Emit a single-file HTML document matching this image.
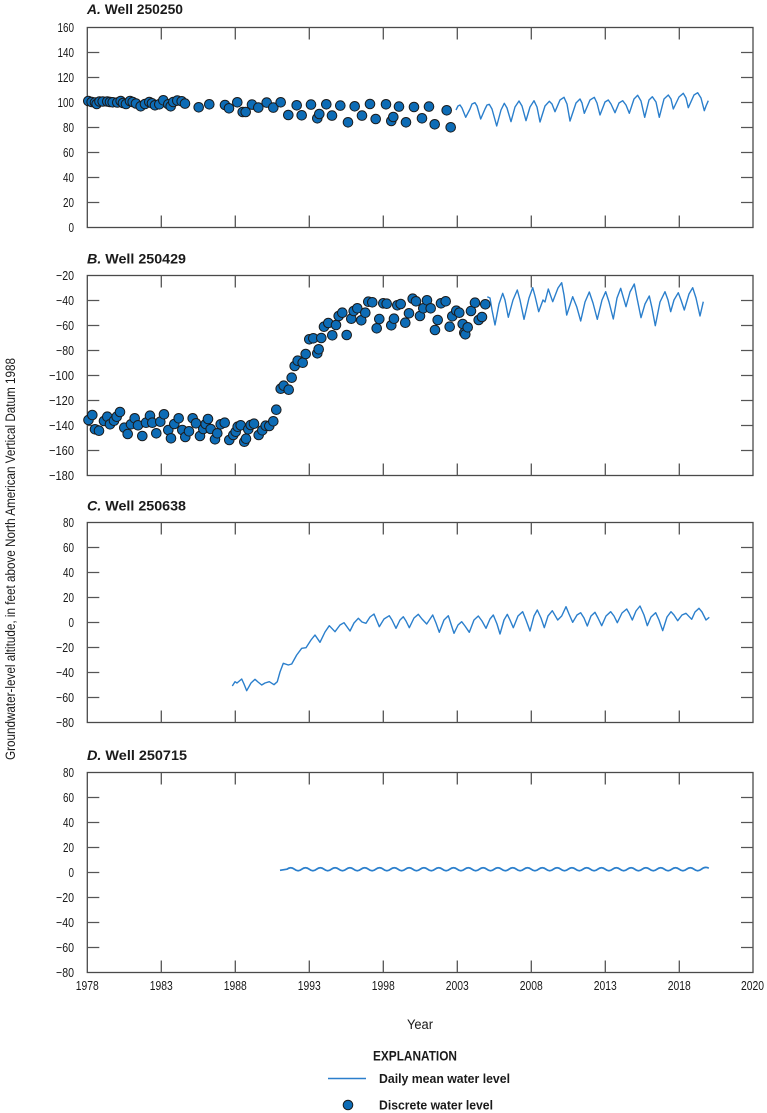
<!DOCTYPE html>
<html>
<head>
<meta charset="utf-8">
<style>
html,body{margin:0;padding:0;background:#fff;}
svg{display:block;}
text{font-family:"Liberation Sans Narrow","Liberation Sans",sans-serif;fill:#1a1a1a;}
.t{font-size:13px;}
.ttl{font-size:13.5px;font-weight:bold;}
.lg{font-size:12.5px;font-weight:bold;}
</style>
</head>
<body>
<svg width="767" height="1113" viewBox="0 0 767 1113" xmlns="http://www.w3.org/2000/svg">
<defs>
  <g id="frame">
    <rect x="87.3" y="0" width="665.7" height="200" fill="none" stroke="#4a4a4a" stroke-width="1.3"/>
    <path d="M161.3,0v12M235.3,0v12M309.3,0v12M383.3,0v12M457.3,0v12M531.3,0v12M605.3,0v12M679.3,0v12
             M161.3,200v-12M235.3,200v-12M309.3,200v-12M383.3,200v-12M457.3,200v-12M531.3,200v-12M605.3,200v-12M679.3,200v-12
             M87.3,25h12M87.3,50h12M87.3,75h12M87.3,100h12M87.3,125h12M87.3,150h12M87.3,175h12
             M753,25h-12M753,50h-12M753,75h-12M753,100h-12M753,125h-12M753,150h-12M753,175h-12"
          stroke="#555" stroke-width="1.3" fill="none"/>
  </g>
</defs>

<!-- Y axis title -->
<text transform="translate(15,559) rotate(-90)" text-anchor="middle" style="font-size:13.5px" textLength="402" lengthAdjust="spacingAndGlyphs">Groundwater-level altitude, in feet above North American Vertical Datum 1988</text>

<!-- ============ PANEL A ============ -->
<text class="ttl" x="87" y="14" textLength="96" lengthAdjust="spacingAndGlyphs"><tspan font-style="italic">A.</tspan> Well 250250</text>
<g transform="translate(0,27.5)">
  <use href="#frame"/>
  <g class="t" text-anchor="end">
    <text x="74" y="4.6" textLength="16.5" lengthAdjust="spacingAndGlyphs">160</text>
    <text x="74" y="29.6" textLength="16.5" lengthAdjust="spacingAndGlyphs">140</text>
    <text x="74" y="54.6" textLength="16.5" lengthAdjust="spacingAndGlyphs">120</text>
    <text x="74" y="79.6" textLength="16.5" lengthAdjust="spacingAndGlyphs">100</text>
    <text x="74" y="104.6" textLength="11" lengthAdjust="spacingAndGlyphs">80</text>
    <text x="74" y="129.6" textLength="11" lengthAdjust="spacingAndGlyphs">60</text>
    <text x="74" y="154.6" textLength="11" lengthAdjust="spacingAndGlyphs">40</text>
    <text x="74" y="179.6" textLength="11" lengthAdjust="spacingAndGlyphs">20</text>
    <text x="74" y="204.6" textLength="5.5" lengthAdjust="spacingAndGlyphs">0</text>
  </g>
</g>
<polyline fill="none" stroke="#2b7fcc" stroke-width="1.4" stroke-linejoin="round" points="456,110 458,106 460,105 462,108 465.7,117.3 470,109 472,104 475,102.7 477,106 480.7,119 485,109 487,105 489.3,104.3 492,109 496.7,126 501,110 504.3,103.3 507,108 511,121.7 515,107 519,101 522,106 526,120.7 530,107 534,100.7 537,107 540,122 545,106 549.3,101.3 552,104 555,111.7 560,100 564,97.3 567,104 570,121 576,103 580,99 582,103 584.3,113.3 590,100 594.3,97.3 597,103 600,115 605,102 608.3,100 611,104 615,112.7 619,103 622.7,100.7 626,105 629.3,113.3 634,99 637.7,95.3 641,101 644.7,117.3 649,100 652.3,96.7 656,102 659.3,117.3 664,99 668.3,95 671,99 673.3,109 679,97 683.3,93.3 686,98 688.3,107.7 694,95 697.7,92.7 701,98 704.3,110.7 706,106 708.3,100.7"/>
<g fill="#0d6cb6" stroke="#1b1b1b" stroke-width="1">
<circle cx="88.3" cy="101" r="4.8"/><circle cx="91.7" cy="102" r="4.8"/><circle cx="95" cy="102.5" r="4.8"/><circle cx="96.7" cy="104" r="4.8"/><circle cx="99.5" cy="101.5" r="4.8"/><circle cx="102.7" cy="101.5" r="4.8"/><circle cx="107.3" cy="101.5" r="4.8"/><circle cx="110" cy="102" r="4.8"/><circle cx="112.7" cy="102.3" r="4.8"/><circle cx="117.3" cy="102.5" r="4.8"/><circle cx="120.7" cy="101" r="4.8"/><circle cx="123" cy="103" r="4.8"/><circle cx="126" cy="104" r="4.8"/><circle cx="130" cy="101" r="4.8"/><circle cx="132.7" cy="102" r="4.8"/><circle cx="136" cy="103.5" r="4.8"/><circle cx="140.7" cy="106.3" r="4.8"/><circle cx="145" cy="104" r="4.8"/><circle cx="149.3" cy="102" r="4.8"/><circle cx="152" cy="103.3" r="4.8"/><circle cx="155" cy="105.3" r="4.8"/><circle cx="159.3" cy="104.3" r="4.8"/><circle cx="163.3" cy="100.3" r="4.8"/><circle cx="168.3" cy="104.3" r="4.8"/><circle cx="170.7" cy="106.3" r="4.8"/><circle cx="173.3" cy="102" r="4.8"/><circle cx="177.3" cy="100.6" r="4.8"/><circle cx="181.7" cy="101.3" r="4.8"/><circle cx="185" cy="103.6" r="4.8"/>
<circle cx="198.7" cy="107.3" r="4.8"/><circle cx="209.3" cy="104.3" r="4.8"/><circle cx="225" cy="105" r="4.8"/><circle cx="229" cy="108.3" r="4.8"/><circle cx="237.3" cy="102.3" r="4.8"/><circle cx="242.7" cy="112" r="4.8"/><circle cx="245.7" cy="112" r="4.8"/><circle cx="252" cy="104.6" r="4.8"/><circle cx="258.3" cy="107.6" r="4.8"/><circle cx="266.7" cy="102.6" r="4.8"/><circle cx="273.3" cy="107.6" r="4.8"/><circle cx="280.7" cy="102.3" r="4.8"/><circle cx="288.3" cy="115" r="4.8"/><circle cx="296.7" cy="105.3" r="4.8"/><circle cx="301.7" cy="115.3" r="4.8"/><circle cx="311" cy="104.6" r="4.8"/><circle cx="317.3" cy="118.3" r="4.8"/><circle cx="319.3" cy="114" r="4.8"/><circle cx="326.3" cy="104.3" r="4.8"/><circle cx="332" cy="115.6" r="4.8"/><circle cx="340.3" cy="105.6" r="4.8"/><circle cx="348" cy="122.3" r="4.8"/><circle cx="354.7" cy="106.3" r="4.8"/><circle cx="362" cy="115.6" r="4.8"/><circle cx="370" cy="104" r="4.8"/><circle cx="375.7" cy="119" r="4.8"/><circle cx="386" cy="104.3" r="4.8"/><circle cx="391.3" cy="121" r="4.8"/><circle cx="393.3" cy="117" r="4.8"/><circle cx="399" cy="106.6" r="4.8"/><circle cx="406" cy="122.3" r="4.8"/><circle cx="414" cy="107" r="4.8"/><circle cx="422" cy="118.3" r="4.8"/><circle cx="429" cy="106.6" r="4.8"/><circle cx="434.7" cy="124.3" r="4.8"/><circle cx="446.7" cy="110.3" r="4.8"/><circle cx="450.7" cy="127.3" r="4.8"/>
</g>

<!-- ============ PANEL B ============ -->
<text class="ttl" x="87" y="263.3" textLength="99" lengthAdjust="spacingAndGlyphs"><tspan font-style="italic">B.</tspan> Well 250429</text>
<g transform="translate(0,275.5)">
  <use href="#frame"/>
  <g class="t" text-anchor="end">
    <text x="74" y="4.6" textLength="18" lengthAdjust="spacingAndGlyphs">−20</text>
    <text x="74" y="29.6" textLength="18" lengthAdjust="spacingAndGlyphs">−40</text>
    <text x="74" y="54.6" textLength="18" lengthAdjust="spacingAndGlyphs">−60</text>
    <text x="74" y="79.6" textLength="18" lengthAdjust="spacingAndGlyphs">−80</text>
    <text x="74" y="104.6" textLength="25" lengthAdjust="spacingAndGlyphs">−100</text>
    <text x="74" y="129.6" textLength="25" lengthAdjust="spacingAndGlyphs">−120</text>
    <text x="74" y="154.6" textLength="25" lengthAdjust="spacingAndGlyphs">−140</text>
    <text x="74" y="179.6" textLength="25" lengthAdjust="spacingAndGlyphs">−160</text>
    <text x="74" y="204.6" textLength="25" lengthAdjust="spacingAndGlyphs">−180</text>
  </g>
</g>
<polyline fill="none" stroke="#2b7fcc" stroke-width="1.4" stroke-linejoin="round" points="487.3,296.7 490,298 492,310 495,325 499,304 502.7,293.3 505,300 508.3,317.3 513,300 517.3,290 520,300 524,319.3 529,298 532.7,287.7 535,296 538.7,311.7 543,300 545,302 548.3,289 552.7,301.7 558,288 561.7,282.7 564,295 566.7,315 572.7,296.7 576.7,306.7 580.7,321 585,302 589.3,292 593,303 597.3,319.3 602,300 605.7,291.7 609,302 613.3,319 617,298 620.7,288.3 626,306.7 630,292 634.3,284 637,298 641,317.7 645,304 649.3,296 652,308 655.3,325.7 660,302 665,291.7 668,300 670.7,311.7 674,300 678.3,292.7 681,300 684.3,310 689,294 692.7,287.7 696,298 700,316 703.3,301.7"/>
<g fill="#0d6cb6" stroke="#1b1b1b" stroke-width="1">
<circle cx="88.5" cy="420" r="4.8"/><circle cx="92.3" cy="415" r="4.8"/><circle cx="95" cy="429.3" r="4.8"/><circle cx="99" cy="430.7" r="4.8"/><circle cx="104" cy="421" r="4.8"/><circle cx="107.3" cy="416.7" r="4.8"/><circle cx="110" cy="424.3" r="4.8"/><circle cx="114" cy="420.7" r="4.8"/><circle cx="116.7" cy="416.7" r="4.8"/><circle cx="120" cy="412" r="4.8"/><circle cx="124.3" cy="427.7" r="4.8"/><circle cx="127.7" cy="434" r="4.8"/><circle cx="131" cy="424.3" r="4.8"/><circle cx="134.7" cy="418.3" r="4.8"/><circle cx="138" cy="425.3" r="4.8"/><circle cx="142.3" cy="436" r="4.8"/><circle cx="146" cy="422.7" r="4.8"/><circle cx="150" cy="415.7" r="4.8"/><circle cx="152.3" cy="422.7" r="4.8"/><circle cx="156.3" cy="433.3" r="4.8"/><circle cx="160.3" cy="421.7" r="4.8"/><circle cx="164" cy="414.3" r="4.8"/><circle cx="168.3" cy="430" r="4.8"/><circle cx="171" cy="438.3" r="4.8"/><circle cx="174.3" cy="424" r="4.8"/><circle cx="178.7" cy="418.3" r="4.8"/><circle cx="182.3" cy="430" r="4.8"/><circle cx="185.3" cy="437" r="4.8"/><circle cx="189" cy="431.3" r="4.8"/><circle cx="192.7" cy="418.3" r="4.8"/><circle cx="196" cy="423.3" r="4.8"/><circle cx="200" cy="436" r="4.8"/><circle cx="203.3" cy="429" r="4.8"/><circle cx="205.7" cy="424" r="4.8"/><circle cx="208" cy="419" r="4.8"/><circle cx="210.7" cy="429" r="4.8"/><circle cx="215" cy="439.3" r="4.8"/><circle cx="217.3" cy="433.3" r="4.8"/><circle cx="220.7" cy="424.3" r="4.8"/><circle cx="224.7" cy="422.7" r="4.8"/><circle cx="229.3" cy="440" r="4.8"/><circle cx="233.3" cy="435" r="4.8"/><circle cx="235.7" cy="431.7" r="4.8"/><circle cx="237.7" cy="426.7" r="4.8"/><circle cx="240.7" cy="425.3" r="4.8"/><circle cx="244.3" cy="441.7" r="4.8"/><circle cx="246" cy="438.7" r="4.8"/><circle cx="248.3" cy="429.3" r="4.8"/><circle cx="250.7" cy="425" r="4.8"/><circle cx="254" cy="423.7" r="4.8"/><circle cx="258.7" cy="435" r="4.8"/><circle cx="262.3" cy="430.3" r="4.8"/><circle cx="265.7" cy="425.7" r="4.8"/><circle cx="269.3" cy="426" r="4.8"/><circle cx="273.3" cy="421.3" r="4.8"/><circle cx="276.3" cy="409.7" r="4.8"/><circle cx="280.7" cy="388.7" r="4.8"/><circle cx="283.7" cy="385.7" r="4.8"/><circle cx="288.7" cy="389.7" r="4.8"/><circle cx="291.7" cy="377.7" r="4.8"/><circle cx="294.7" cy="366" r="4.8"/><circle cx="297.7" cy="360.7" r="4.8"/><circle cx="302.7" cy="362.7" r="4.8"/><circle cx="305.7" cy="354" r="4.8"/><circle cx="309.3" cy="339.3" r="4.8"/><circle cx="313.3" cy="338.3" r="4.8"/><circle cx="317.3" cy="353.3" r="4.8"/><circle cx="318.7" cy="349.3" r="4.8"/><circle cx="321.3" cy="338" r="4.8"/><circle cx="324" cy="326.7" r="4.8"/><circle cx="328.3" cy="323" r="4.8"/><circle cx="332.3" cy="335.3" r="4.8"/><circle cx="336" cy="325" r="4.8"/><circle cx="338.7" cy="316" r="4.8"/><circle cx="342.3" cy="312.7" r="4.8"/><circle cx="346.7" cy="335" r="4.8"/><circle cx="351.3" cy="318.7" r="4.8"/><circle cx="353.7" cy="311" r="4.8"/><circle cx="357.3" cy="308.3" r="4.8"/><circle cx="361.3" cy="320.3" r="4.8"/><circle cx="365.3" cy="312.7" r="4.8"/><circle cx="368.3" cy="301.7" r="4.8"/><circle cx="372.3" cy="302.3" r="4.8"/><circle cx="376.7" cy="328.3" r="4.8"/><circle cx="379.3" cy="319" r="4.8"/>
<circle cx="383.3" cy="303.3" r="4.8"/><circle cx="386.7" cy="303.7" r="4.8"/><circle cx="391.3" cy="325.3" r="4.8"/><circle cx="394" cy="318.7" r="4.8"/><circle cx="397.3" cy="305.3" r="4.8"/><circle cx="400.7" cy="304" r="4.8"/><circle cx="405.3" cy="322.7" r="4.8"/><circle cx="409" cy="313.3" r="4.8"/><circle cx="412.7" cy="298.7" r="4.8"/><circle cx="416" cy="301.3" r="4.8"/><circle cx="420" cy="316" r="4.8"/><circle cx="423.3" cy="308.3" r="4.8"/><circle cx="427" cy="300.3" r="4.8"/><circle cx="430.7" cy="308.3" r="4.8"/><circle cx="435" cy="330" r="4.8"/><circle cx="437.7" cy="320" r="4.8"/><circle cx="441" cy="303.3" r="4.8"/><circle cx="445.7" cy="301.3" r="4.8"/><circle cx="449.7" cy="326.7" r="4.8"/><circle cx="452.3" cy="316.3" r="4.8"/><circle cx="456.3" cy="310.7" r="4.8"/><circle cx="459.3" cy="312.7" r="4.8"/><circle cx="462.7" cy="324" r="4.8"/><circle cx="464.3" cy="332.7" r="4.8"/><circle cx="465.3" cy="334.3" r="4.8"/><circle cx="467.7" cy="327.3" r="4.8"/><circle cx="471" cy="311" r="4.8"/><circle cx="475" cy="302.7" r="4.8"/><circle cx="478.7" cy="320" r="4.8"/><circle cx="482" cy="317" r="4.8"/><circle cx="485.3" cy="304.3" r="4.8"/>
</g>

<!-- ============ PANEL C ============ -->
<text class="ttl" x="87" y="510.7" textLength="99" lengthAdjust="spacingAndGlyphs"><tspan font-style="italic">C.</tspan> Well 250638</text>
<g transform="translate(0,522.5)">
  <use href="#frame"/>
  <g class="t" text-anchor="end">
    <text x="74" y="4.6" textLength="11" lengthAdjust="spacingAndGlyphs">80</text>
    <text x="74" y="29.6" textLength="11" lengthAdjust="spacingAndGlyphs">60</text>
    <text x="74" y="54.6" textLength="11" lengthAdjust="spacingAndGlyphs">40</text>
    <text x="74" y="79.6" textLength="11" lengthAdjust="spacingAndGlyphs">20</text>
    <text x="74" y="104.6" textLength="5.5" lengthAdjust="spacingAndGlyphs">0</text>
    <text x="74" y="129.6" textLength="18" lengthAdjust="spacingAndGlyphs">−20</text>
    <text x="74" y="154.6" textLength="18" lengthAdjust="spacingAndGlyphs">−40</text>
    <text x="74" y="179.6" textLength="18" lengthAdjust="spacingAndGlyphs">−60</text>
    <text x="74" y="204.6" textLength="18" lengthAdjust="spacingAndGlyphs">−80</text>
  </g>
</g>
<polyline fill="none" stroke="#2b7fcc" stroke-width="1.4" stroke-linejoin="round" points="232.3,686 235,681.7 237,683 241.7,679 244,684 246.7,690.7 251,683 255,679.3 258,682 261.7,685 265,683 269.3,681.7 274,684.7 277.3,681.7 280,672 283.3,663.3 288.3,665 291.7,664 296.7,655 301.7,648.3 306,647.7 311,640 315,635 320,642.3 325,632 329.3,625.7 335,631.7 340,625 344,622.7 350,631 354,623 358.3,618.3 362,622 366,623.3 370,617 374,614 379.3,626.7 384,619 389.3,615.7 392,620 396,628.3 400,620 403.3,616.7 406,621 409.3,627.7 414,618 418.3,614.3 422,619 426.7,624 432.7,615 436,623 439.3,632.3 444,620 448.3,615.7 451,624 454,633.3 458,625 461.7,621.7 465,626 469.3,632.3 474,620 478.3,616 482,621 486,628.3 490,619 493.3,615 497,624 500,634 504,620 507.3,614.3 510,620 513.3,627.7 518,616 522.7,611.7 526,620 530,631 534,616 537.3,610 541,618 544.3,627.7 548,616 552.3,610.7 557.7,620 561.7,616 566,606.7 569,614 572.7,622.3 577,615 580.7,612.7 584,618 587.3,626 591,616 595,612.3 598,618 601.7,625.7 606,616 610.7,611.7 614,616 617.3,622.7 622,613 626.7,609 629,613 632.3,620 636,611 640,606 644,615 647.3,625.7 651,617 655.7,612.7 659,620 662.7,630.7 667,617 671,611.7 674,615 677.7,620.7 682,615 686,613.3 691.7,619.3 695,612 699,608.3 702,612 706,620 709.3,617.3"/>

<!-- ============ PANEL D ============ -->
<text class="ttl" x="87" y="760" textLength="100" lengthAdjust="spacingAndGlyphs"><tspan font-style="italic">D.</tspan> Well 250715</text>
<g transform="translate(0,772.5)">
  <use href="#frame"/>
  <g class="t" text-anchor="end">
    <text x="74" y="4.6" textLength="11" lengthAdjust="spacingAndGlyphs">80</text>
    <text x="74" y="29.6" textLength="11" lengthAdjust="spacingAndGlyphs">60</text>
    <text x="74" y="54.6" textLength="11" lengthAdjust="spacingAndGlyphs">40</text>
    <text x="74" y="79.6" textLength="11" lengthAdjust="spacingAndGlyphs">20</text>
    <text x="74" y="104.6" textLength="5.5" lengthAdjust="spacingAndGlyphs">0</text>
    <text x="74" y="129.6" textLength="18" lengthAdjust="spacingAndGlyphs">−20</text>
    <text x="74" y="154.6" textLength="18" lengthAdjust="spacingAndGlyphs">−40</text>
    <text x="74" y="179.6" textLength="18" lengthAdjust="spacingAndGlyphs">−60</text>
    <text x="74" y="204.6" textLength="18" lengthAdjust="spacingAndGlyphs">−80</text>
  </g>
</g>
<path fill="none" stroke="#2b7fcc" stroke-width="1.7" stroke-linejoin="round" d="M280,870.3 L287,869.2 q3.7,-3 7.4,0 t7.4,0 t7.4,0 t7.4,0 t7.4,0 t7.4,0 t7.4,0 t7.4,0 t7.4,0 t7.4,0 t7.4,0 t7.4,0 t7.4,0 t7.4,0 t7.4,0 t7.4,0 t7.4,0 t7.4,0 t7.4,0 t7.4,0 t7.4,0 t7.4,0 t7.4,0 t7.4,0 t7.4,0 t7.4,0 t7.4,0 t7.4,0 t7.4,0 t7.4,0 t7.4,0 t7.4,0 t7.4,0 t7.4,0 t7.4,0 t7.4,0 t7.4,0 t7.4,0 t7.4,0 t7.4,0 t7.4,0 t7.4,0 t7.4,0 t7.4,0 t7.4,0 t7.4,0 t7.4,0 t7.4,0 t7.4,0 t7.4,0 t7.4,0 t7.4,0 t7.4,0 t7.4,0 t7.4,0 t7.4,0 t7.4,-1"/>

<!-- X axis labels -->
<g class="t" text-anchor="middle">
  <text x="87.3" y="990" textLength="23" lengthAdjust="spacingAndGlyphs">1978</text>
  <text x="161.3" y="990" textLength="23" lengthAdjust="spacingAndGlyphs">1983</text>
  <text x="235.3" y="990" textLength="23" lengthAdjust="spacingAndGlyphs">1988</text>
  <text x="309.3" y="990" textLength="23" lengthAdjust="spacingAndGlyphs">1993</text>
  <text x="383.3" y="990" textLength="23" lengthAdjust="spacingAndGlyphs">1998</text>
  <text x="457.3" y="990" textLength="23" lengthAdjust="spacingAndGlyphs">2003</text>
  <text x="531.3" y="990" textLength="23" lengthAdjust="spacingAndGlyphs">2008</text>
  <text x="605.3" y="990" textLength="23" lengthAdjust="spacingAndGlyphs">2013</text>
  <text x="679.3" y="990" textLength="23" lengthAdjust="spacingAndGlyphs">2018</text>
  <text x="752.5" y="990" textLength="23" lengthAdjust="spacingAndGlyphs">2020</text>
  <text x="420" y="1029" style="font-size:13.5px" textLength="26" lengthAdjust="spacingAndGlyphs">Year</text>
</g>

<!-- Legend -->
<text x="373" y="1060.5" style="font-size:14px;font-weight:bold" textLength="84" lengthAdjust="spacingAndGlyphs">EXPLANATION</text>
<line x1="328" y1="1078.5" x2="366" y2="1078.5" stroke="#2b7fcc" stroke-width="1.5"/>
<text class="lg" x="379" y="1082.8" textLength="131" lengthAdjust="spacingAndGlyphs">Daily mean water level</text>
<circle cx="348" cy="1105" r="4.8" fill="#0d6cb6" stroke="#1b1b1b" stroke-width="1"/>
<text class="lg" x="379" y="1109.5" textLength="114" lengthAdjust="spacingAndGlyphs">Discrete water level</text>
</svg>
</body>
</html>
